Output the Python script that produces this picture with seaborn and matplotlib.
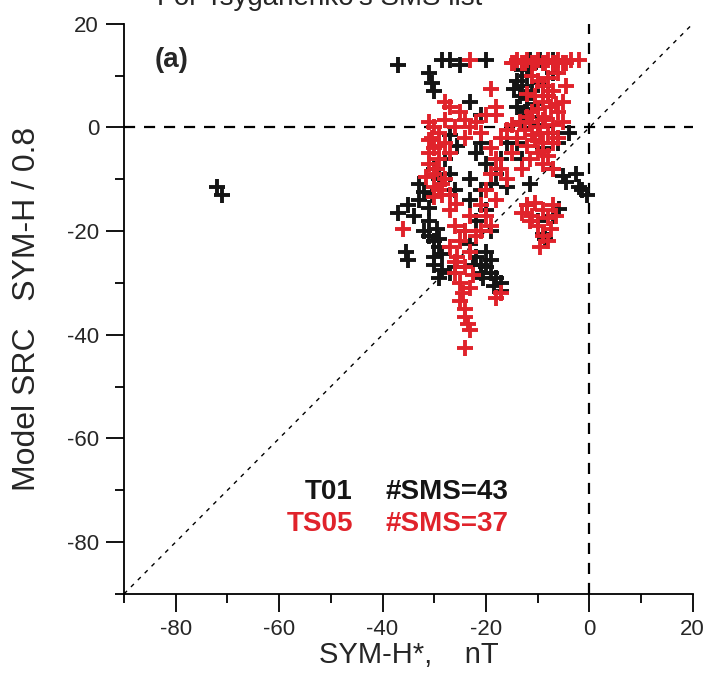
import matplotlib
matplotlib.use("Agg")
import matplotlib.pyplot as plt
from matplotlib.ticker import MultipleLocator
import seaborn as sns
import pandas as pd

# ---- data ----
t01_x = [-72, -71,
         -37, -31, -30.5, -30, -28.5, -27, -25, -20, -23, -21, -11.5, -9.5, -7, -7,
         -14, -13, -12, -13.5, -12, -11, -14, -12.5, -10.5, -11, -13, -9, -8, -10,
         -13, -11.5, -14.5, -12, -10,
         -27, -25.5, -28, -27, -26, -29, -30,
         -33, -32, -35, -37, -34, -31, -31, -32, -30, -29, -35.5, -35, -30, -30, -29, -28.5, -31, -33,
         -29.5, -30.5, -28.5, -29,
         -21, -22, -20, -18, -21, -19, -20, -19, -23, -22, -17, -16, -24, -23,
         -23, -22, -21, -20, -19, -18, -17, -17, -19, -20, -21, -26, -27,
         -22.5, -18.5, -20.5,
         -13, -14, -11.5, -16, -5, -2, -1.5, -5.8, -9, -8.5, -10, -7, -2.5, -6, -4, -7, -9, -12,
         -7, -4.5, -0.5]
t01_y = [-11.5, -13,
         12, 10.5, 8.5, 7, 13, 13, 12, 13, 5, 2.5, 13, 13, 13, 10.5,
         9, 8, 10, 6, 5.5, 7, 4, 3, 4.5, 2, 1, 8, 6, 0.5,
         11, 11.5, 7.5, 3.5, 8.5,
         -1.5, -3.5, -6, -9, -12, -10, -8,
         -11, -12.5, -15, -16.5, -17, -15.5, -18, -20, -22, -23, -24, -25.5, -25, -26.5, -29, -27.5, -21, -14,
         -19.5, -13, -24.5, -21.5,
         -3, -5, -7, -9, -12, -11, -16, -20, -14, -18, -6, -3, -20, -10,
         -22.5, -25, -26.5, -27, -28, -29, -30, -31.5, -25.5, -24, -28, -27, -28,
         -26.5, -30.5, -29,
         -6, -3, -11, -11.5, -9.3, -11.5, -12, -15.7, -20.5, -21.5, -18, -17, -9, -3, -1, -1, -4, -15,
         -8, -10.5, -13]

ts05_x = [-23, -15, -14, -13, -12, -11, -10, -9, -8, -7, -6, -5, -3.5, -2,
          -14.5, -12.5, -10.5, -8.5, -6.5, -4.5,
          -19, -28, -27, -18, -18,
          -25, -24, -23, -22, -26, -21, -24, -20,
          -31, -30, -29, -31, -30, -28, -29, -31, -30, -28, -29, -27, -30, -31, -28, -27,
          -30.5, -29.5, -28.5, -31.5, -29, -30,
          -36,
          -28.5, -25.8, -23, -27,
          -26, -24, -22, -25, -27, -23, -25.5, -24, -26, -22.5, -25, -23, -26,
          -24.5, -25, -24, -24, -23.5, -23, -24,
          -18, -17,
          -19, -18, -17, -16, -19, -15, -20, -18, -21, -17, -16,
          -20, -19, -21,
          -11, -10, -9, -8, -7, -10.5, -9, -7.5, -6, -11, -12, -9, -10, -8, -11, -12.5, -13.5, -7,
          -6, -9, -12, -10, -14, -15, -8, -5, -5, -4.5, -6, -12,
          -8.5, -7, -10, -9.5, -11.5, -8, -6.5, -9, -10.5,
          -12, -10.5, -9, -11, -13, -8, -10, -7.5, -9, -8, -9.5, -11.5, -7, -6.5,
          -11.5, -9, -7, -13]
ts05_y = [13, 12.5, 13, 12.5, 13, 12.5, 13, 12.5, 13, 12.5, 13, 12.5, 13, 13,
          12.5, 12.5, 12.5, 12.5, 12.5, 12.5,
          7.5, 5, 4, 4, 2.5,
          3, 1.5, 0, 1, 0, -1, -2, 2.5,
          1, 0, -1, -2.5, -4, -3, -6, -7, -9, -10, -12, -13, -13.5, -5, 1.5, -5,
          -2, -8, -11, -9.5, -3.5, -11.5,
          -19.5,
          -13, -14.7, -17, -16,
          -19, -20, -21, -22, -23, -24, -25, -27, -28, -28.5, -30, -31, -26,
          -32, -33.5, -35, -36.5, -38, -39, -42.5,
          -33, -32,
          -4, -6, -8, -10, -9, -5, -12, -14, -15, -2, -0.5,
          -17, -19, -20,
          10, 9, 8, 9.5, 7, 6, 5, 4, 3, 3, 2, 1.5, 0, -1, -1.5, -0.5, 1, 0.5,
          -2, -3, -3.5, -5, -2, 0.5, -5.5, 1, 5, 8, 10.5, 6.5,
          2, -3, 3.5, -1, 1, 6, 4.5, -4.5, -2.5,
          -15, -14.5, -16, -17, -16.5, -17.5, -19, -19.5, -21, -22, -23, -18, -15, -17,
          -6, -7, -8, -8]

black = "#151515"
red = "#e0232b"

sns.set_style("ticks")
plt.rcParams["font.family"] = ["Liberation Sans", "DejaVu Sans"]
plt.rcParams["axes.unicode_minus"] = False

fig = plt.figure(figsize=(7.09, 6.81), dpi=100)
ax = fig.add_axes([0.175, 0.128, 0.802, 0.837])

df1 = pd.DataFrame({"x": t01_x, "y": t01_y})
df2 = pd.DataFrame({"x": ts05_x, "y": ts05_y})

# reference lines
ax.plot([-90, 20], [-90, 20], color="black", lw=1.0, ls=(0, (3, 4)), zorder=1)
ax.axhline(0, color="black", lw=1.6, ls=(0, (5, 4)), zorder=1)
ax.axvline(0, color="black", lw=1.6, ls=(0, (5, 4)), zorder=1)

sns.scatterplot(data=df1, x="x", y="y", marker="+", color=black, s=120,
                linewidth=2.8, ax=ax, zorder=3)
sns.scatterplot(data=df2, x="x", y="y", marker="+", color=red, s=120,
                linewidth=2.8, ax=ax, zorder=4)

ax.set_xlim(-90, 20)
ax.set_ylim(-90, 20)
ax.xaxis.set_minor_locator(MultipleLocator(10))
ax.yaxis.set_minor_locator(MultipleLocator(10))
ax.set_xticks([-80, -60, -40, -20, 0, 20])
ax.set_yticks([-80, -60, -40, -20, 0, 20])
ax.tick_params(which="major", direction="out", length=13, width=1.3,
               labelsize=16, pad=5, color="black")
ax.tick_params(which="minor", direction="out", length=6.5, width=1.3, color="black")
for side in ["top", "right"]:
    ax.spines[side].set_visible(False)
for side in ["left", "bottom"]:
    ax.spines[side].set_linewidth(1.3)
    ax.spines[side].set_color("black")

ax.set_xlabel("SYM-H*,    nT", fontsize=21, labelpad=1)
ax.set_ylabel("Model SRC   SYM-H / 0.8", fontsize=23, labelpad=18)

ax.text(-84, 13, "(a)", fontsize=20, fontweight="bold", va="center", ha="left")
ax.text(-55, -70.3, "T01", fontsize=20, fontweight="bold", color=black, va="center")
ax.text(-39.5, -70.3, "#SMS=43", fontsize=20, fontweight="bold", color=black, va="center")
ax.text(-58.5, -76.6, "TS05", fontsize=20, fontweight="bold", color=red, va="center")
ax.text(-39.5, -76.6, "#SMS=37", fontsize=20, fontweight="bold", color=red, va="center")

fig.text(0.451, 0.993, "For Tsyganenko's SMS list", fontsize=20,
         ha="center", va="baseline")

fig.savefig("out.png", dpi=100)
